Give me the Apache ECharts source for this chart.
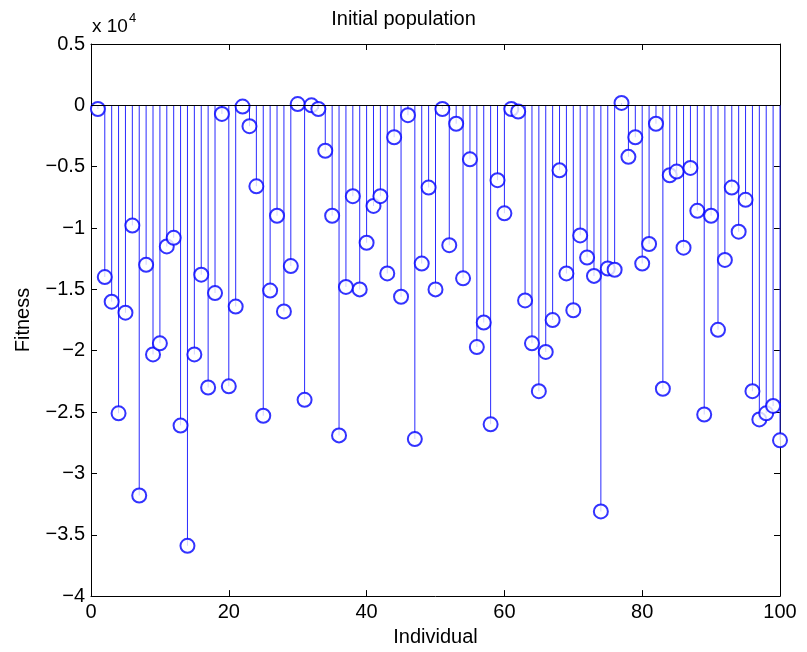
<!DOCTYPE html>
<html><head><meta charset="utf-8">
<script src="https://cdn.jsdelivr.net/npm/echarts@6/dist/echarts.min.js"></script>
<style>html,body{margin:0;padding:0;background:#fff}#c{width:807px;height:652px}</style>
</head><body><div id="c"></div>
<script>
const individuals = Array.from({length:100},(_,i)=>i+1);
const fitness = [
 -300,-14000,-16000,-25100,-16900,-9800,-31800,-13000,-20300,-19400,
 -11500,-10800,-26100,-35900,-20300,-13800,-23000,-15300,-700,-22900,
 -16400,-100,-1700,-6600,-25300,-15100,-9000,-16800,-13100,100,
 -24000,0,-300,-3700,-9000,-26900,-14800,-7400,-15000,-11200,
 -8200,-7400,-13700,-2600,-15600,-800,-27200,-12900,-6700,-15000,
 -300,-11400,-1500,-14100,-4400,-19700,-17700,-26000,-6100,-8800,
 -300,-500,-15900,-19400,-23300,-20100,-17500,-5300,-13700,-16700,
 -10600,-12400,-13900,-33100,-13300,-13400,200,-4200,-2600,-12900,
 -11300,-1500,-23100,-5700,-5400,-11600,-5100,-8600,-25200,-9000,
 -18300,-12600,-6700,-10300,-7700,-23300,-25600,-25100,-24500,-27300
];
const yTicks = [0.5,0,-0.5,-1,-1.5,-2,-2.5,-3,-3.5,-4];
const xTicks = [0,20,40,60,80,100];
const scale = 1e4;

const pts = individuals.map((x,i)=>[x, fitness[i]]);
const FONT = '"Liberation Sans", Arial, sans-serif';
const chart = echarts.init(document.getElementById('c'));
function axisCommon(){ return {
  axisLine:{show:true,onZero:false,lineStyle:{color:'#000',width:1}},
  axisTick:{show:true,inside:true,length:6,lineStyle:{color:'#000'}},
  splitLine:{show:false}
};}
chart.setOption({
  animation:false,
  backgroundColor:'#fff',
  title:{text:'Initial population',left:'center',top:4,
    textStyle:{fontFamily:FONT,fontSize:20,fontWeight:'normal',color:'#000'}},
  grid:{left:91,right:27,top:44,bottom:55,containLabel:false},
  xAxis:[
    Object.assign({type:'value',min:0,max:100,interval:20,position:'bottom',
      name:'Individual',nameLocation:'middle',nameGap:29,
      nameTextStyle:{fontFamily:FONT,fontSize:20,color:'#000'},
      axisLabel:{fontFamily:FONT,fontSize:20,color:'#000',margin:6}},axisCommon()),
    Object.assign({type:'value',min:0,max:100,interval:20,position:'top',
      axisLabel:{show:false}},axisCommon())
  ],
  yAxis:[
    Object.assign({type:'value',min:-4*scale,max:0.5*scale,interval:0.5*scale,position:'left',
      name:'Fitness',nameLocation:'middle',nameGap:58,
      nameTextStyle:{fontFamily:FONT,fontSize:20,color:'#000'},
      axisLabel:{fontFamily:FONT,fontSize:20,color:'#000',margin:6,
        formatter:v=>{const t=Math.round(v/scale*10)/10; return String(t).replace('-','\u2212');}}},axisCommon()),
    Object.assign({type:'value',min:-4*scale,max:0.5*scale,interval:0.5*scale,position:'right',
      axisLabel:{show:false}},axisCommon())
  ],
  graphic:[{type:'text',left:92,top:12,style:{
    text:'{a|x 10}{b|4}',rich:{
      a:{fontFamily:FONT,fontSize:19,fill:'#000',verticalAlign:'bottom',lineHeight:24},
      b:{fontFamily:FONT,fontSize:13,fill:'#000',verticalAlign:'top',lineHeight:24,padding:[0,0,12,1]}}}}],
  series:[
    {type:'bar',data:pts,barWidth:1,itemStyle:{color:'#2a2aff'},silent:true,z:2,
     markLine:{silent:true,symbol:'none',label:{show:false},
       lineStyle:{color:'#000',type:'solid',width:1},
       data:[[{coord:[0,0]},{coord:[100,0]}]]}},
    {type:'scatter',data:pts,symbol:'emptyCircle',symbolSize:14,z:3,
     itemStyle:{color:'#0000ff',borderColor:'#0000ff',borderWidth:1.1}}
  ]
});
</script></body></html>
